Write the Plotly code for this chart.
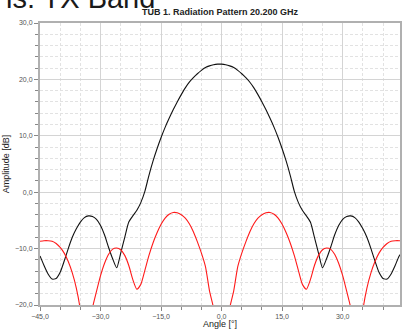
import plotly.graph_objects as go

angles = list(range(-45, 46))

black_db = [
    -11.3, -13.0, -14.5, -15.4, -15.3, -14.2, -12.2, -10.0, -8.0, -6.5,
    -5.3, -4.5, -4.2, -4.3, -4.8, -5.9, -7.6, -9.8, -11.8, -13.4,
    -10.8, -8.0, -5.3, -4.2, -3.2, -1.8, 0.2, 3.0, 5.5, 7.7,
    9.7, 11.5, 13.1, 14.6, 16.0, 17.3, 18.5, 19.5, 20.3, 21.0,
    21.6, 22.1, 22.4, 22.6, 22.7, 22.7,
    22.6, 22.4, 22.1, 21.6, 21.0, 20.3, 19.5, 18.5, 17.3, 16.0,
    14.6, 13.1, 11.5, 9.7, 7.7, 5.5, 3.0, 0.2, -1.8, -3.2,
    -4.2, -5.3, -8.0, -10.8, -13.4, -11.8, -9.8, -7.6, -5.9, -4.8,
    -4.3, -4.2, -4.5, -5.3, -6.5, -8.0, -10.0, -12.2, -14.2, -15.3,
    -15.4, -14.5, -13.0, -11.3, -10.5,
]

red_db = [
    -8.7, -8.6, -8.6, -8.7, -9.1, -9.8, -10.8, -12.3, -14.3, -17.0,
    -21.0, -30.0, -24.0, -20.5, -17.6, -14.8, -12.6, -11.0, -10.1, -9.9,
    -10.2, -11.2, -13.0, -15.5, -17.2, -16.3, -13.8, -11.2, -9.0, -7.2,
    -5.7, -4.6, -3.9, -3.6, -3.65, -4.0, -4.6, -5.6, -7.0, -8.8,
    -10.8, -13.2, -17.5, -20.5, -24.0, -30.0,
    -24.0, -20.5, -17.5, -13.2, -10.8, -8.8, -7.0, -5.6, -4.6, -4.0,
    -3.65, -3.6, -3.9, -4.6, -5.7, -7.2, -9.0, -11.2, -13.8, -16.3,
    -17.2, -15.5, -13.0, -11.2, -10.2, -9.9, -10.1, -11.0, -12.6, -14.8,
    -17.6, -20.5, -24.0, -30.0, -21.0, -17.0, -14.3, -12.3, -10.8, -9.8,
    -9.1, -8.7, -8.6, -8.6, -8.7,
]

x_ticks = [-45, -30, -15, 0, 15, 30, 45]
y_ticks = [-20, -10, 0, 10, 20, 30]

fig = go.Figure()
fig.add_trace(go.Scatter(x=angles, y=black_db[:len(angles)], mode="lines",
                         line=dict(color="#111111", width=1.1, shape="spline", smoothing=0.6),
                         showlegend=False))
fig.add_trace(go.Scatter(x=angles, y=red_db[:len(angles)], mode="lines",
                         line=dict(color="#ff1a1a", width=1.1, shape="spline", smoothing=0.6),
                         showlegend=False))

fig.update_layout(
    width=402, height=329,
    margin=dict(l=40, r=0, t=23, b=24),
    paper_bgcolor="white", plot_bgcolor="white",
    separators=",.",
    font=dict(family="Liberation Sans", size=7, color="#555555"),
    title=dict(text="<b>TUB 1. Radiation Pattern 20.200 GHz</b>",
               x=220 / 402, xanchor="center", y=1 - 12 / 329, yanchor="middle",
               font=dict(family="Liberation Sans", size=9, color="#222222")),
    xaxis=dict(range=[-45, 44.2], tickvals=x_ticks, tickformat=".1f",
               showgrid=True, gridcolor="#d4d4d4", gridwidth=1,
               minor=dict(dtick=5, showgrid=True, gridcolor="#e2e2e2", griddash="3px,2px",
                          ticks="outside", ticklen=3, tickcolor="#888888"),
               ticks="outside", ticklen=4, tickcolor="#888888",
               showline=True, linecolor="#b0b0b0", linewidth=2, mirror=True,
               zeroline=False,
               title=dict(text="Angle [°]", standoff=2,
                          font=dict(family="Liberation Sans", size=9, color="#222222"))),
    yaxis=dict(range=[-20, 30], tickvals=y_ticks, tickformat=".1f",
               showgrid=True, gridcolor="#d4d4d4", gridwidth=1,
               minor=dict(dtick=2, showgrid=True, gridcolor="#e2e2e2", griddash="3px,2px",
                          ticks="outside", ticklen=3, tickcolor="#888888"),
               ticks="outside", ticklen=4, tickcolor="#888888",
               showline=True, linecolor="#b0b0b0", linewidth=2, mirror=True,
               zeroline=False,
               title=dict(text="Amplitude [dB]", standoff=4,
                          font=dict(family="Liberation Sans", size=9, color="#222222"))),
    annotations=[dict(text="is: TX Band", xref="paper", yref="paper",
                      x=-36 / 362, y=1 + 7 / 282, xanchor="left", yanchor="bottom",
                      showarrow=False,
                      font=dict(family="Liberation Sans", size=29, color="#1a1a1a"))],
)

fig.write_html("out.html", config={"displayModeBar": False},
               post_script="document.body.style.margin='0';document.body.style.overflow='hidden';")
